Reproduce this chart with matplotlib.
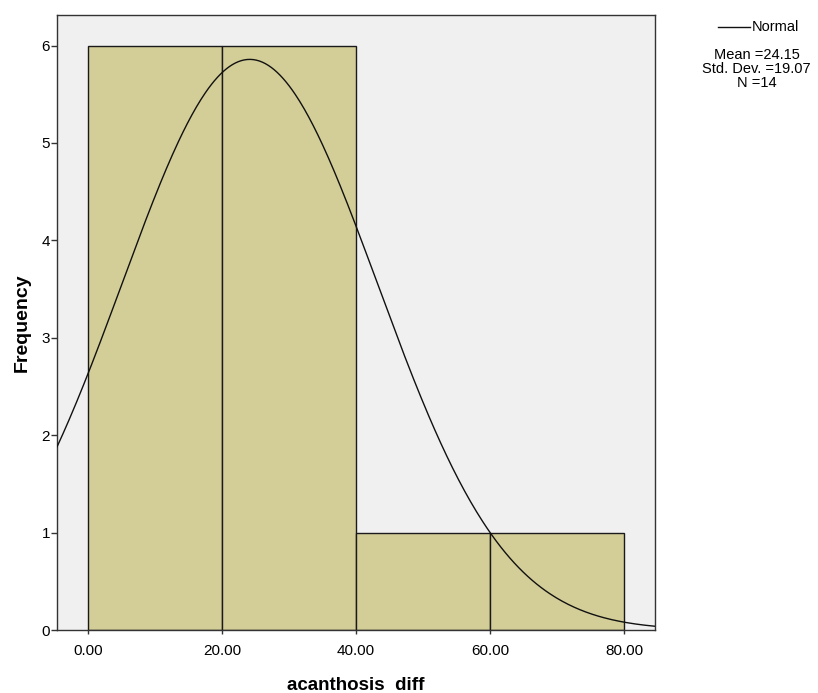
import matplotlib.pyplot as plt
import numpy as np

plt.rcParams["font.family"] = ["Liberation Sans", "DejaVu Sans"]

# histogram of acanthosis diff
bin_edges = [0, 20, 40, 60, 80]
counts = [6, 6, 1, 1]
x_ticks = [0, 20, 40, 60, 80]
x_tick_labels = ["0.00", "20.00", "40.00", "60.00", "80.00"]
y_ticks = [0, 1, 2, 3, 4, 5, 6]

mean = 24.15
std_dev = 19.07
n = 14

BAR_COLOR = "#d3cd97"
BG_COLOR = "#f0f0f0"

fig = plt.figure(figsize=(8.18, 6.93), dpi=100)
ax = fig.add_axes([0.0697, 0.0909, 0.731, 0.887])
ax.set_facecolor(BG_COLOR)

widths = np.diff(bin_edges)
ax.bar(
    bin_edges[:-1],
    counts,
    width=widths,
    align="edge",
    color=BAR_COLOR,
    edgecolor="#1a1a1a",
    linewidth=1.0,
    zorder=2,
)

# normal curve scaled to counts
x_min, x_max = -4.6, 84.6
xs = np.linspace(x_min, x_max, 400)
bin_width = widths[0]
ys = n * bin_width / (std_dev * np.sqrt(2 * np.pi)) * np.exp(-0.5 * ((xs - mean) / std_dev) ** 2)
ax.plot(xs, ys, color="#111111", linewidth=1.0, zorder=3)

ax.set_xlim(x_min, x_max)
ax.set_ylim(0, 6.31)
ax.set_xticks(x_ticks)
ax.set_xticklabels(x_tick_labels)
ax.set_yticks(y_ticks)
ax.tick_params(axis="both", labelsize=11, length=4, width=1.0, color="#333333", pad=1)
ax.tick_params(axis="x", length=3, pad=7)

for spine in ax.spines.values():
    spine.set_color("#333333")
    spine.set_linewidth(1.0)

ax.set_xlabel("acanthosis  diff", fontsize=13.5, fontweight="bold", labelpad=14)
ax.set_ylabel("Frequency", fontsize=14, fontweight="bold", labelpad=8)

# legend and summary statistics
fig.add_artist(plt.Line2D([0.878, 0.917], [0.961, 0.961], color="#111111", linewidth=1.0))
fig.text(0.919, 0.961, "Normal", fontsize=10.5, va="center", ha="left")
fig.text(
    0.925,
    0.931,
    f"Mean ={mean:.2f}\nStd. Dev. ={std_dev:.2f}\nN ={n}",
    fontsize=10.5,
    va="top",
    ha="center",
    linespacing=1.0,
)

fig.savefig("out.png", dpi=100)
